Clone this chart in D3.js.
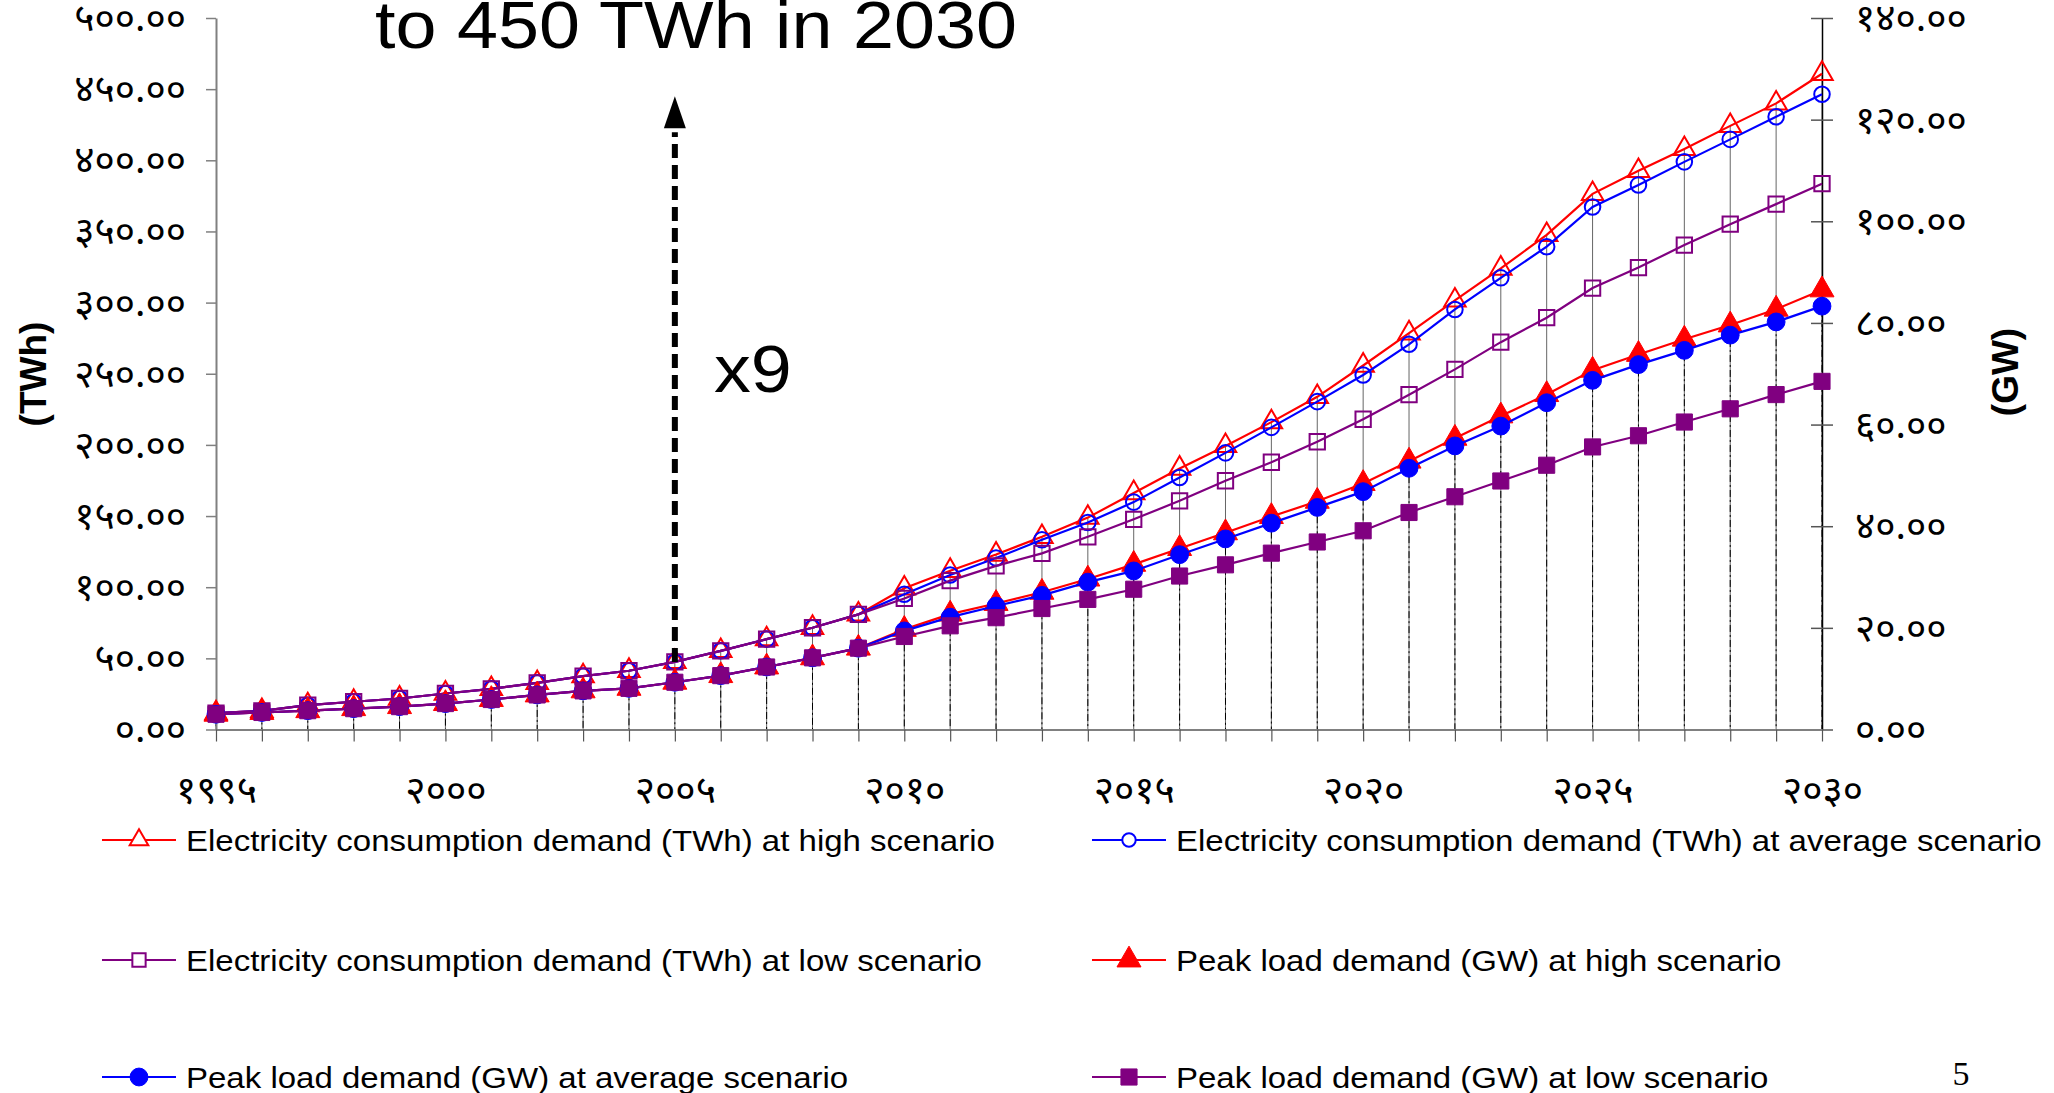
<!DOCTYPE html>
<html>
<head>
<meta charset="utf-8">
<script src="https://cdn.jsdelivr.net/npm/d3@7"></script>
<style>
  html, body { margin: 0; padding: 0; background: #fff; overflow: hidden; }
  svg { display: block; }
  text { font-family: "Liberation Sans", Arial, sans-serif; fill: #000; }
  .num text, text.num { font-family: "Noto Sans", "DejaVu Sans", sans-serif; }
</style>
</head>
<body>
<svg id="chart" width="2054" height="1093"></svg>
<script>
// Years on the category axis
const years = [1995, 1996, 1997, 1998, 1999, 2000, 2001, 2002, 2003, 2004,
               2005, 2006, 2007, 2008, 2009, 2010, 2011, 2012, 2013, 2014,
               2015, 2016, 2017, 2018, 2019, 2020, 2021, 2022, 2023, 2024,
               2025, 2026, 2027, 2028, 2029, 2030];

// Electricity consumption demand (TWh), left axis
const twhHigh = [11.5, 13.1, 17.1, 19.5, 21.8, 25.3, 28.6, 32.8, 37.5, 41.3,
                 47.5, 55.3, 63.5, 71.5, 80.9, 99.2, 111.6, 123.0, 135.4, 148.9,
                 166.2, 183.4, 199.3, 216.0, 233.8, 255.8, 278.5, 301.6, 324.0, 347.6,
                 376.4, 392.6, 408.0, 424.2, 440.0, 460.8];
const twhAverage = [11.5, 13.1, 17.1, 19.5, 21.8, 25.3, 28.6, 32.8, 37.5, 41.3,
                    47.5, 55.3, 63.5, 71.5, 80.9, 95.0, 108.6, 120.5, 133.3, 145.5,
                    159.8, 177.1, 194.4, 212.3, 230.4, 249.1, 270.7, 295.2, 317.4, 339.3,
                    367.2, 382.7, 398.9, 414.7, 430.6, 446.4];
const twhLow = [11.5, 13.1, 17.1, 19.5, 21.8, 25.3, 28.6, 32.8, 37.5, 41.3,
                47.5, 55.3, 63.5, 71.5, 80.9, 92.1, 104.6, 115.0, 123.8, 135.4,
                147.7, 160.7, 174.8, 187.8, 202.2, 218.0, 235.3, 253.1, 272.2, 289.4,
                310.2, 324.6, 340.4, 355.1, 369.2, 383.6];

// Peak load demand (GW), right axis
const gwHigh = [3.0, 3.35, 3.7, 4.1, 4.5, 5.1, 5.9, 6.8, 7.6, 8.1,
                9.3, 10.6, 12.3, 14.1, 16.0, 19.7, 22.7, 24.8, 27.0, 29.6,
                32.5, 35.6, 38.7, 41.9, 44.9, 48.4, 52.8, 57.3, 61.7, 65.9,
                70.7, 73.8, 76.8, 79.6, 82.7, 86.5];
const gwAverage = [3.0, 3.35, 3.7, 4.1, 4.5, 5.1, 5.9, 6.8, 7.6, 8.1,
                   9.3, 10.6, 12.3, 14.1, 16.0, 19.4, 22.1, 24.3, 26.4, 29.0,
                   31.2, 34.4, 37.5, 40.6, 43.7, 46.8, 51.4, 55.8, 59.7, 64.3,
                   68.7, 71.8, 74.6, 77.6, 80.2, 83.3];
const gwLow = [3.0, 3.35, 3.7, 4.1, 4.5, 5.1, 5.9, 6.8, 7.6, 8.1,
               9.3, 10.6, 12.3, 14.1, 16.0, 18.3, 20.4, 22.0, 23.8, 25.6,
               27.6, 30.2, 32.4, 34.7, 36.9, 39.1, 42.7, 45.8, 48.9, 52.0,
               55.6, 57.8, 60.5, 63.1, 65.9, 68.5];

// Axis ticks and their labels (Devanagari digits)
const leftTicks = [0, 50, 100, 150, 200, 250, 300, 350, 400, 450, 500];
const leftTickLabels = ["०.००", "५०.००", "१००.००", "१५०.००", "२००.००", "२५०.००",
                        "३००.००", "३५०.००", "४००.००", "४५०.००", "५००.००"];
const rightTicks = [0, 20, 40, 60, 80, 100, 120, 140];
const rightTickLabels = ["०.००", "२०.००", "४०.००", "६०.००", "८०.००", "१००.००", "१२०.००", "१४०.००"];
const labelledYears = [1995, 2000, 2005, 2010, 2015, 2020, 2025, 2030];
const yearLabels = ["१९९५", "२०००", "२००५", "२०१०", "२०१५", "२०२०", "२०२५", "२०३०"];

// Series names
const seriesNames = [
  "Electricity consumption demand (TWh) at high scenario",
  "Electricity consumption demand (TWh) at average scenario",
  "Electricity consumption demand (TWh) at low scenario",
  "Peak load demand (GW) at high scenario",
  "Peak load demand (GW) at average scenario",
  "Peak load demand (GW) at low scenario"
];

// Annotations
const headline = "to 450 TWh in 2030";
const growthLabel = "x9";
const arrowFromYear = 2005;
const arrowToValue = 445;
const pageNumber = "5";

// ---------------------------------------------------------------
const svg = d3.select("#chart");
const plot = { left: 216, right: 1822, top: 18, bottom: 729.5 };
const NUM_SIZE = 39;

const x = d3.scaleLinear().domain([1995, 2030]).range([plot.left, plot.right]);
const yL = d3.scaleLinear().domain([0, 500]).range([plot.bottom, plot.top]);
const yR = d3.scaleLinear().domain([0, 140]).range([plot.bottom, plot.top]);

const RED = "#ff0000", BLUE = "#0000ff", PURPLE = "#800080";

const series = [
  { name: seriesNames[0], values: twhHigh,    y: yL, color: RED,    shape: d3.symbolTriangle, size: 200, filled: false },
  { name: seriesNames[1], values: twhAverage, y: yL, color: BLUE,   shape: d3.symbolCircle,   size: 190, filled: false },
  { name: seriesNames[2], values: twhLow,     y: yL, color: PURPLE, shape: d3.symbolSquare,   size: 235, filled: false },
  { name: seriesNames[3], values: gwHigh,     y: yR, color: RED,    shape: d3.symbolTriangle, size: 250, filled: true },
  { name: seriesNames[4], values: gwAverage,  y: yR, color: BLUE,   shape: d3.symbolCircle,   size: 250, filled: true },
  { name: seriesNames[5], values: gwLow,      y: yR, color: PURPLE, shape: d3.symbolSquare,   size: 260, filled: true }
];

// stretch text horizontally by factor k
function stretch(sel, k) {
  sel.each(function () {
    const L = this.getComputedTextLength();
    if (L > 0) {
      this.setAttribute("textLength", L * k);
      this.setAttribute("lengthAdjust", "spacingAndGlyphs");
    }
  });
}

// Drop lines: consumption group (solid grey) and peak-load group (dash-dot black)
const drops = svg.append("g");
drops.selectAll("line.twh").data(years).join("line")
  .attr("class", "twh")
  .attr("x1", d => x(d)).attr("x2", d => x(d))
  .attr("y1", (d, i) => yL(Math.max(twhHigh[i], twhAverage[i], twhLow[i])))
  .attr("y2", plot.bottom)
  .attr("stroke", "#666").attr("stroke-width", 1);
drops.selectAll("line.gw").data(years).join("line")
  .attr("class", "gw")
  .attr("x1", d => x(d)).attr("x2", d => x(d))
  .attr("y1", (d, i) => yR(Math.max(gwHigh[i], gwAverage[i], gwLow[i])))
  .attr("y2", plot.bottom)
  .attr("stroke", "#000").attr("stroke-width", 1)
  .attr("stroke-dasharray", "7,3,2,3");

// Left axis
const axL = svg.append("g").attr("class", "num")
  .attr("transform", `translate(${plot.left},0)`)
  .call(d3.axisLeft(yL).tickValues(leftTicks)
    .tickFormat((d, i) => leftTickLabels[i])
    .tickSizeInner(10).tickSizeOuter(0).tickPadding(20));
axL.select(".domain").attr("stroke", "#808080").attr("stroke-width", 2);
axL.selectAll(".tick line").attr("stroke", "#808080").attr("stroke-width", 1.5);
axL.selectAll(".tick text").attr("font-size", NUM_SIZE).attr("fill", "#000");

// Right axis (ticks cross the axis line)
const axR = svg.append("g").attr("class", "num")
  .attr("transform", `translate(${plot.right},0)`)
  .call(d3.axisRight(yR).tickValues(rightTicks)
    .tickFormat((d, i) => rightTickLabels[i])
    .tickSizeInner(11).tickSizeOuter(0).tickPadding(22));
axR.select(".domain").attr("stroke", "#000").attr("stroke-width", 1.5);
axR.selectAll(".tick line").attr("x1", -11).attr("stroke", "#555").attr("stroke-width", 1.5);
axR.selectAll(".tick text").attr("font-size", NUM_SIZE).attr("fill", "#000");

// Category axis
const axB = svg.append("g").attr("class", "num")
  .attr("transform", `translate(0,${plot.bottom})`)
  .call(d3.axisBottom(x).tickValues(years)
    .tickFormat(d => { const k = labelledYears.indexOf(d); return k < 0 ? "" : yearLabels[k]; })
    .tickSizeInner(12).tickSizeOuter(0).tickPadding(34));
axB.select(".domain").attr("stroke", "#808080").attr("stroke-width", 2);
axB.selectAll(".tick line").attr("stroke", "#555").attr("stroke-width", 1.2);
axB.selectAll(".tick text").attr("font-size", NUM_SIZE).attr("fill", "#000");

// Series lines and markers
const lines = svg.append("g");
series.forEach(s => {
  const line = d3.line().x((d, i) => x(years[i])).y(d => s.y(d));
  const g = lines.append("g");
  g.append("path").datum(s.values).attr("d", line)
    .attr("fill", "none").attr("stroke", s.color).attr("stroke-width", 2.2);
  const sym = d3.symbol().type(s.shape).size(s.size);
  g.selectAll("path.mk").data(s.values).join("path")
    .attr("class", "mk")
    .attr("transform", (d, i) => `translate(${x(years[i])},${s.y(d)})`)
    .attr("d", sym)
    .attr("fill", s.filled ? s.color : "none")
    .attr("stroke", s.color).attr("stroke-width", s.filled ? 1 : 2);
});

// Growth arrow
const ai = years.indexOf(arrowFromYear);
const ax = x(arrowFromYear);
const yTip = yL(arrowToValue);
const headH = 32, headW = 11;
svg.append("line")
  .attr("x1", ax).attr("x2", ax)
  .attr("y1", yL(twhAverage[ai])).attr("y2", yTip + headH + 4)
  .attr("stroke", "#000").attr("stroke-width", 6)
  .attr("stroke-dasharray", "14,7");
svg.append("path")
  .attr("d", `M${ax},${yTip}L${ax - headW},${yTip + headH}L${ax + headW},${yTip + headH}Z`)
  .attr("fill", "#000");

svg.append("text").attr("x", 714).attr("y", 392)
  .attr("font-size", 67).text(growthLabel).call(stretch, 1.1);

svg.append("text").attr("x", 375).attr("y", 48)
  .attr("font-size", 67).attr("fill", "#111").text(headline).call(stretch, 1.1);

// Axis titles
svg.append("text")
  .attr("transform", "translate(33,374) rotate(-90)")
  .attr("text-anchor", "middle").attr("dominant-baseline", "central")
  .attr("font-size", 37).attr("font-weight", "bold").text("(TWh)");
svg.append("text")
  .attr("transform", "translate(2005,372) rotate(-90)")
  .attr("text-anchor", "middle").attr("dominant-baseline", "central")
  .attr("font-size", 37).attr("font-weight", "bold").text("(GW)");

// Legend: two columns, three rows
const legCols = [102, 1092];
const legRows = [840, 960, 1077];
const legend = svg.append("g");
series.forEach((s, i) => {
  const cx = legCols[i % 2], cy = legRows[Math.floor(i / 2)];
  const g = legend.append("g").attr("transform", `translate(${cx},${cy})`);
  g.append("line").attr("x1", 0).attr("x2", 74).attr("y1", 0).attr("y2", 0)
    .attr("stroke", s.color).attr("stroke-width", 2.2);
  g.append("path").attr("transform", "translate(37,0)")
    .attr("d", d3.symbol().type(s.shape).size(s.filled ? s.size : s.size * 0.75))
    .attr("fill", s.filled ? s.color : "#fff")
    .attr("stroke", s.color).attr("stroke-width", s.filled ? 1 : 2);
  g.append("text").attr("x", 84).attr("y", 0)
    .attr("dominant-baseline", "central")
    .attr("font-size", 30).text(s.name).call(stretch, 1.1);
});

svg.append("text").attr("x", 1961).attr("y", 1073)
  .attr("text-anchor", "middle").attr("dominant-baseline", "central")
  .style("font-family", "'Liberation Serif', 'Times New Roman', serif")
  .attr("font-size", 34).text(pageNumber);
</script>
</body>
</html>
